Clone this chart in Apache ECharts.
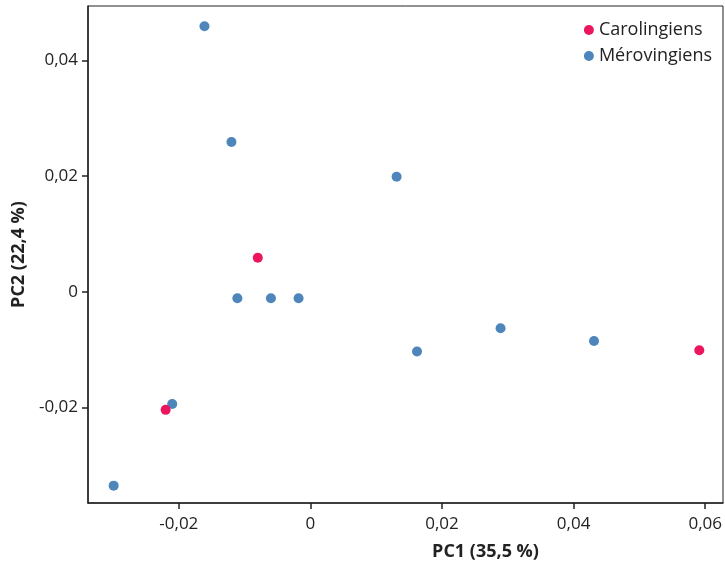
<!DOCTYPE html>
<html>
<head>
<meta charset="utf-8">
<script src="https://cdn.jsdelivr.net/npm/echarts@6/dist/echarts.min.js"></script>
<style>
    html, body { margin: 0; padding: 0; background: #fff; }
    #pca_chart { width: 725px; height: 566px; }
</style>
</head>
<body>
<div id="pca_chart"></div>
<script>
    // PC1 / PC2
    var carolingiens = [
        [-0.0080, 0.0059],
        [-0.0220, -0.0204],
        [0.0591, -0.0101]
    ];
    var merovingiens = [
        [-0.0161, 0.0459],
        [-0.0120, 0.0259],
        [-0.0111, -0.0011],
        [-0.0060, -0.0011],
        [-0.0018, -0.0011],
        [-0.0210, -0.0194],
        [-0.0299, -0.0335],
        [0.0131, 0.0199],
        [0.0162, -0.0103],
        [0.0289, -0.0063],
        [0.0431, -0.0085]
    ];
    var x_ticks = [-0.02, 0, 0.02, 0.04, 0.06];
    var y_ticks = [-0.02, 0, 0.02, 0.04];

    var font = '"Open Sans", Lato, sans-serif';

    function fmt(v) {
        if (Math.abs(v) < 1e-9) return '0';
        return v.toFixed(2).replace('.', ',');
    }

    var my_chart = echarts.init(document.getElementById('pca_chart'));

    var option = {
        animation: false,
        grid: {
            left: 88,
            top: 6,
            right: 2,
            bottom: 61,
            show: true,
            borderColor: '#222',
            borderWidth: 1
        },
        legend: {
            orient: 'vertical',
            right: 8,
            top: 16,
            itemWidth: 10,
            itemHeight: 10,
            itemGap: 8,
            icon: 'circle',
            textStyle: { fontFamily: font, fontSize: 18, color: '#222' },
            data: ['Carolingiens', 'Mérovingiens']
        },
        xAxis: {
            type: 'value',
            min: -0.0338,
            max: 0.0627,
            name: 'PC1 (35,5 %)',
            nameLocation: 'middle',
            nameGap: 40,
            nameTextStyle: {
                fontFamily: font, fontSize: 18, fontWeight: 'bold', color: '#222',
                padding: [0, 0, 0, 160]
            },
            axisLine: { show: true, onZero: false, lineStyle: { color: '#222', width: 1.5 } },
            axisTick: { show: true, length: 6, customValues: x_ticks, lineStyle: { color: '#222', width: 1.5 } },
            axisLabel: {
                fontFamily: font, fontSize: 17, color: '#222', margin: 13,
                customValues: x_ticks,
                formatter: fmt
            },
            splitLine: { show: false }
        },
        yAxis: {
            type: 'value',
            min: -0.0365,
            max: 0.0494,
            name: 'PC2 (22,4 %)',
            nameLocation: 'middle',
            nameGap: 56,
            nameTextStyle: { fontFamily: font, fontSize: 18, fontWeight: 'bold', color: '#222' },
            axisLine: { show: true, onZero: false, lineStyle: { color: '#222', width: 1.5 } },
            axisTick: { show: true, length: 6, customValues: y_ticks, lineStyle: { color: '#222', width: 1.5 } },
            axisLabel: {
                fontFamily: font, fontSize: 17, color: '#222', margin: 10,
                customValues: y_ticks,
                formatter: fmt
            },
            splitLine: { show: false }
        },
        series: [
            {
                name: 'Carolingiens',
                type: 'scatter',
                symbolSize: 10,
                itemStyle: { color: '#EC1660', opacity: 1 },
                data: carolingiens,
                z: 3
            },
            {
                name: 'Mérovingiens',
                type: 'scatter',
                symbolSize: 10,
                itemStyle: { color: '#4E86BB', opacity: 1 },
                data: merovingiens,
                z: 2
            }
        ]
    };

    my_chart.setOption(option);
</script>
</body>
</html>
